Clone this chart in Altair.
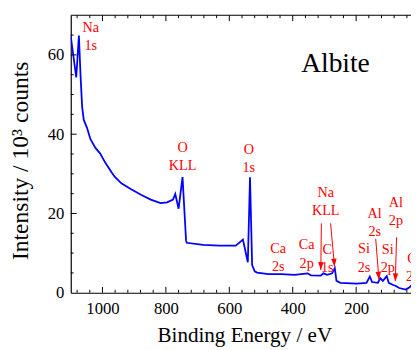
import altair as alt
import pandas as pd

# ---- spectrum (binding energy in eV, intensity in 10^3 counts) ----
energy = [1100, 1082.7, 1074.3, 1069.1, 1064.1, 1058.9, 1048.7, 1038.2, 1022.7, 1007.2,
          991.8, 971.4, 960.9, 940.4, 909.5, 878.6, 847.7, 816.8, 796, 777.5,
          770.4, 759.9, 747.5, 736.4, 734.2, 682.6, 631.2, 579.6, 557, 541.6,
          534.7, 528, 519.9, 512.5, 476.6, 435.2, 394.1, 353, 342.4, 311.5,
          303.5, 291.1, 275.6, 267.3, 262, 249.7, 198.3, 167.4, 156.9, 149.8,
          131.2, 124.1, 115.8, 103.4, 97.2, 84.8, 74.6, 64.1, 43.7, 31.3, 24]
intensity = [64.7, 54.3, 64.9, 54.7, 46.9, 43.6, 41.6, 38.8, 36.6, 35.1,
             32.9, 30.4, 29.2, 27.6, 26.1, 24.7, 23.5, 22.6, 22.8, 23.5,
             24.9, 21.2, 29.2, 13.2, 12.6, 12.1, 11.9, 11.9, 13.4, 7.7,
             29.1, 7.0, 5.4, 5.1, 4.7, 4.7, 4.5, 4.9, 4.4, 4.3,
             4.9, 4.5, 4.9, 6.2, 3.0, 2.5, 2.3, 2.5, 4.1, 2.7,
             2.5, 3.7, 3.0, 4.2, 2.5, 2.0, 1.7, 1.2, 0.8, 1.4, 2.0]

# ---- peak labels (position of the first line) ----
label_top = ["Na", "O", "O", "Na", "Ca", "Ca", "C", "Si", "Al", "Si", "Al", "O"]
label_bottom = ["1s", "KLL", "1s", "KLL", "2s", "2p", "1s", "2s", "2s", "2p", "2p", "2s"]
label_x = [1037, 747.5, 538.5, 296, 445.7, 356, 291, 175.4, 141.4, 100.3, 74.6, 23]
label_y = [66.7, 36.5, 36.0, 25.1, 11.1, 11.9, 10.7, 10.9, 19.8, 10.7, 22.6, 8.6]

# ---- arrows ----
arrow_x0 = [309.6, 280.6, 138.3, 72.5]
arrow_y0 = [17.5, 17.5, 13.6, 14.0]
arrow_x1 = [311.5, 268.2, 128.1, 76.5]
arrow_y1 = [5.75, 6.6, 3.3, 2.9]
arrow_angle = [1, 355, 355.5, 1.7]

# ---- ticks ----
x_major = [1000, 800, 600, 400, 200]
x_minor = [1080, 1040, 960, 920, 880, 840, 760, 720, 680, 640, 560, 520, 480, 440,
           360, 320, 280, 240, 160, 120, 80, 40]
y_major = [20, 40, 60]
y_minor = [5, 10, 15, 25, 30, 35, 45, 50, 55, 65]

W, H = 347, 283
SERIF = "Liberation Serif"
RED = "#ff0000"

xs = alt.Scale(domain=[27, 1100], reverse=True, nice=False, zero=False)
ys = alt.Scale(domain=[0, 70], nice=False)

ax_x = alt.Axis(
    title="Binding Energy / eV", values=x_major, format="d", ticks=False, grid=False,
    domainColor="black", domainWidth=1.2, labelFont=SERIF, labelFontSize=17,
    labelColor="black", labelPadding=8, titleFont=SERIF, titleFontSize=21.5,
    titleFontWeight="normal", titleColor="black", titleBaseline="alphabetic",
    titleX=177, titleY=50)
ax_y = alt.Axis(
    title="Intensity / 10³ counts", values=[0] + y_major, format="d", ticks=False, grid=False,
    domainColor="black", domainWidth=1.2, labelFont=SERIF, labelFontSize=17,
    labelColor="black", labelPadding=7, titleFont=SERIF, titleFontSize=24,
    titleFontWeight="normal", titleColor="black", titleBaseline="middle",
    titleX=-51, titleY=148)

spec = pd.DataFrame({"e": energy, "i": intensity})
line = alt.Chart(spec).mark_line(color="#0000ff", strokeWidth=1.8, clip=True).encode(
    x=alt.X("e:Q", scale=xs, axis=ax_x),
    y=alt.Y("i:Q", scale=ys, axis=ax_y),
)

def xticks(vals, length, top):
    df = pd.DataFrame({"e": vals})
    if top:
        y1, y2 = 0, length
    else:
        y1, y2 = H, H - length
    return alt.Chart(df).mark_rule(color="black", strokeWidth=1).encode(
        x=alt.X("e:Q", scale=xs, axis=ax_x), y=alt.value(y1), y2=alt.value(y2))

def yticks(vals, length):
    df = pd.DataFrame({"i": vals})
    return alt.Chart(df).mark_rule(color="black", strokeWidth=1).encode(
        y=alt.Y("i:Q", scale=ys, axis=ax_y), x=alt.value(0), x2=alt.value(length))

top_border = alt.Chart(pd.DataFrame({"a": [0]})).mark_rule(color="black", strokeWidth=1.2).encode(
    x=alt.value(0), x2=alt.value(W), y=alt.value(0))

labels = pd.DataFrame({
    "e": label_x, "i": label_y,
    "t": [a + "\n" + b for a, b in zip(label_top, label_bottom)],
})
text = alt.Chart(labels).mark_text(
    font=SERIF, fontSize=14.5, color=RED, lineBreak="\n", lineHeight=18.5,
    align="center", baseline="middle").encode(
    x=alt.X("e:Q", scale=xs, axis=ax_x), y=alt.Y("i:Q", scale=ys, axis=ax_y), text="t:N")

arrows = pd.DataFrame({"e": arrow_x0, "i": arrow_y0, "e1": arrow_x1, "i1": arrow_y1,
                       "ang": arrow_angle})
arrow_lines = alt.Chart(arrows).mark_rule(color=RED, strokeWidth=1).encode(
    x=alt.X("e:Q", scale=xs, axis=ax_x), y=alt.Y("i:Q", scale=ys, axis=ax_y),
    x2="e1:Q", y2="i1:Q")
arrow_heads = alt.Chart(arrows).mark_point(
    shape="M-0.35,-1L0.35,-1L0,0Z", size=256, filled=True, color=RED, opacity=1).encode(
    x=alt.X("e1:Q", scale=xs, axis=ax_x), y=alt.Y("i1:Q", scale=ys, axis=ax_y),
    angle=alt.Angle("ang:Q", scale=None))

title = alt.Chart(pd.DataFrame({"t": ["Albite"]})).mark_text(
    font=SERIF, fontSize=28, color="black", align="center", baseline="middle").encode(
    x=alt.value(270), y=alt.value(50), text="t:N")

chart = alt.layer(
    line, text, arrow_lines, arrow_heads, title, top_border,
    xticks(x_major, 6, False), xticks(x_minor, 3, False),
    xticks(x_major, 6, True), xticks(x_minor, 3, True),
    yticks(y_major, 6), yticks(y_minor, 3),
).properties(
    width=W, height=H,
    padding={"left": 64, "top": 4, "right": 0, "bottom": 55},
    autosize=alt.AutoSizeParams(type="none"),
).configure_view(stroke=None)

chart.save("out.html", embed_options={"renderer": "svg", "actions": False})
